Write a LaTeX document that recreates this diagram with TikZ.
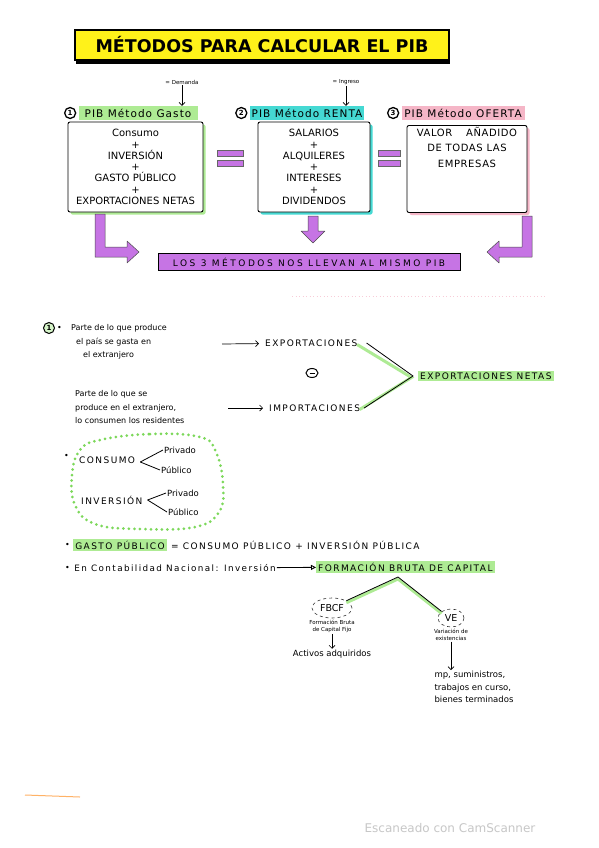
\documentclass[tikz,border=0pt]{standalone}
\usepackage{fontspec}
\setmainfont{DejaVu Sans}
\usetikzlibrary{arrows.meta,calc,positioning,shadows,shapes.geometric}

\definecolor{markyellow}{HTML}{FFF21A}
\definecolor{markgreen}{HTML}{AEEB94}
\definecolor{markcyan}{HTML}{45D9D3}
\definecolor{markpink}{HTML}{F5B6C7}
\definecolor{markviolet}{HTML}{C674E4}
\definecolor{dotgreen}{HTML}{7CD85A}
\newcommand{\spaced}{\addfontfeature{LetterSpace=16}}
\newcommand{\widespaced}{\addfontfeature{LetterSpace=28}}

\begin{document}
\begin{tikzpicture}[
  x=1pt, y=-1pt,
  node distance=4pt and 6pt,
  every node/.style={font=\fontsize{8}{10}\selectfont, inner sep=1pt},
  heading/.style={
    draw=black,
    line width=1.5pt,
    fill=markyellow,
    minimum width=374pt,
    minimum height=30pt,
    font=\fontsize{17.5}{20}\selectfont\bfseries,
    drop shadow={shadow xshift=1pt, shadow yshift=-4pt, fill=black, opacity=1}
  },
  hl/.style={fill=#1, inner sep=2pt},
  header/.style={hl=#1, font=\fontsize{10.5}{11}\selectfont\addfontfeature{LetterSpace=10},
    minimum height=14pt},
  num/.style={circle, draw=black, line width=1.3pt, inner sep=0pt, minimum size=11pt,
    font=\fontsize{7}{7}\selectfont\bfseries},
  method/.style={
    draw=black,
    line width=0.9pt,
    rounded corners=2pt,
    fill=white,
    align=center,
    font=\fontsize{10}{11.3}\selectfont,
    drop shadow={shadow xshift=2.5pt, shadow yshift=-2.5pt, fill=#1, opacity=1}
  },
  eqbar/.style={fill=markviolet, draw=black!60, line width=0.4pt},
  fatarrow/.style={fill=markviolet, draw=black!70, line width=0.5pt, line join=round},
  banner/.style={fill=markviolet, draw=black, line width=0.8pt, minimum width=302pt,
    minimum height=17pt, font=\fontsize{9}{10}\selectfont\widespaced},
  arrow/.style={-{Straight Barb[length=3pt]}, line width=0.7pt},
  caps/.style={font=\fontsize{9}{10}\selectfont\spaced},
  note/.style={align=left, font=\fontsize{8}{13.8}\selectfont},
  branch/.style={line width=0.8pt},
  glow/.style={draw=markgreen, line width=3pt},
  dotblob/.style={draw=dotgreen, line width=3pt, dash pattern=on 0pt off 5.5pt, line cap=round},
  tiny/.style={font=\fontsize{5.5}{6.5}\selectfont, align=center},
  oval/.style={ellipse, draw=black!80, dashed, line width=0.6pt, inner sep=0pt,
    font=\fontsize{9.5}{10}\selectfont}
]
\useasboundingbox (0,0) rectangle (599,848);
\fill[white] (0,0) rectangle (599,848);

% title
\node[heading] (title) at (262,45) {MÉTODOS PARA CALCULAR EL PIB};

% the three methods
\node[header=markgreen, minimum width=119pt] (hgasto) at (138,113) {PIB Método Gasto};
\node[header=markcyan, minimum width=113pt] (hrenta) at (307,113) {PIB Método RENTA};
\node[header=markpink, minimum width=123pt] (hoferta) at (463,113) {PIB Método OFERTA};
\node[num, left=2pt of hgasto] (n1) {1};
\node[num, left=2pt of hrenta] (n2) {2};
\node[num, left=2pt of hoferta] (n3) {3};

\node[tiny] (demanda) at (182,82) {= Demanda};
\node[tiny] (ingreso) at (346,82) {= Ingreso};
\draw[arrow] (demanda) -- (demanda |- hgasto.north);
\draw[arrow] (ingreso) -- (ingreso |- hrenta.north);

\node[method=markgreen, minimum width=135pt, minimum height=90pt] (gasto) at (135.5,167)
  {Consumo\\+\\INVERSIÓN\\+\\GASTO PÚBLICO\\+\\EXPORTACIONES NETAS};
\node[method=markcyan, minimum width=112pt, minimum height=90pt] (renta) at (314,167)
  {SALARIOS\\+\\ALQUILERES\\+\\INTERESES\\+\\DIVIDENDOS};
\node[method=markpink, minimum width=120pt, minimum height=87pt] (oferta) at (467,169) {};
\node[below=1pt of oferta.north, align=center,
  font=\fontsize{10}{15.5}\selectfont\addfontfeature{LetterSpace=6}] (valor)
  {VALOR \quad AÑADIDO\\DE TODAS LAS\\EMPRESAS};

% equal signs
\foreach \xa/\xb in {217/243, 378/400} {
  \draw[eqbar] (\xa,150) rectangle (\xb,156);
  \draw[eqbar] (\xa,160) rectangle (\xb,166);
}

% purple arrows
\draw[fatarrow] (95,214) -- (105,214) -- (105,247) -- (127,247) -- (127,241) -- (139,252)
  -- (127,263) -- (127,257) -- (95,257) -- cycle;
\draw[fatarrow] (308,216) -- (318,216) -- (318,231) -- (325,231) -- (313,243) -- (301,231)
  -- (308,231) -- cycle;
\draw[fatarrow] (532,216) -- (522,216) -- (522,247) -- (499,247) -- (499,241) -- (487,252)
  -- (499,263) -- (499,257) -- (532,257) -- cycle;
\node[banner] (same) at (309,262) {LOS 3 MÉTODOS NOS LLEVAN AL MISMO PIB};

\draw[markpink!70, line width=1pt, dash pattern=on 1pt off 2.5pt] (292,296) -- (545,296);

% exports and imports
\node[num, fill=markgreen!50, line width=1pt] (sec1) at (49,328) {1};
\node[right=1pt of sec1] (dot1) {•};
\node[note, anchor=north west] (expdef) at (70,323)
  {Parte de lo que produce\\\hspace*{5pt}el país se gasta en\\\hspace*{12pt}el extranjero};
\node[note, anchor=north west] (impdef) at (74,389)
  {Parte de lo que se\\produce en el extranjero,\\lo consumen los residentes};
\node[caps, anchor=west] (exp) at (264,343) {EXPORTACIONES};
\node[caps, anchor=west] (imp) at (268,408) {IMPORTACIONES};
\coordinate (expin) at (222,344);
\coordinate (impin) at (228,408);
\draw[arrow, shorten >=5pt] (expin) -- (exp);
\draw[arrow, shorten >=5pt] (impin) -- (imp);
\node[ellipse, draw, line width=1pt, minimum width=12pt, minimum height=9pt, inner sep=0pt]
  (minus) at (312,373) {\rule{5pt}{1pt}};

\coordinate (netfork) at (413,376);
\node[hl=markgreen, caps, anchor=west] (netas) at (418,376) {EXPORTACIONES NETAS};
\draw[glow] ([shift={(-1.5pt,-1.5pt)}]exp.east) -- ([shift={(-1.5pt,-1.5pt)}]netfork)
  -- ([shift={(-1.5pt,-1.5pt)}]imp.east);
\draw[branch] ([xshift=8pt]exp.east) -- (netfork) -- ([xshift=3pt]imp.east);

% consumption and investment
\node[anchor=west] (dot2) at (63,456) {•};
\node[caps, anchor=west] (consumo) at (78,460) {CONSUMO};
\coordinate (cfork) at ($(consumo.east)+(4,2)$);
\node[anchor=west, font=\fontsize{8.5}{10}\selectfont] (cpriv) at (163,450) {Privado};
\node[anchor=west, font=\fontsize{8.5}{10}\selectfont] (cpub) at (160,470) {Público};
\node[caps, anchor=west] (inversion) at (80,500) {INVERSIÓN};
\coordinate (ifork) at ($(inversion.east)+(4,0)$);
\node[anchor=west, font=\fontsize{8.5}{10}\selectfont] (ipriv) at (166,493) {Privado};
\node[anchor=west, font=\fontsize{8.5}{10}\selectfont] (ipub) at (167,512) {Público};
\foreach \k in {cpriv,cpub}
  \draw[branch] (cfork) -- (\k.west);
\foreach \k in {ipriv,ipub}
  \draw[branch] (ifork) -- (\k.west);
\draw[dotblob] plot[smooth cycle, tension=0.7] coordinates {(100,440) (150,434) (200,437)
  (216,452) (223,485) (219,512) (195,527) (140,529) (95,524) (75,505) (72,475) (80,450)};

% public spending and capital formation
\node[anchor=west] (dot3) at (64,545) {•};
\node[hl=markgreen, caps, right=2pt of dot3] (gp) {GASTO PÚBLICO};
\node[caps, right=3pt of gp] (gpdef) {= CONSUMO PÚBLICO + INVERSIÓN PÚBLICA};
\node[anchor=west] (dot4) at (64,568) {•};
\node[right=2pt of dot4, font=\fontsize{8.8}{10}\selectfont\spaced] (contab)
  {En Contabilidad Nacional: Inversión};
\node[hl=markgreen, caps, anchor=west] (fbc) at (316,567) {FORMACIÓN BRUTA DE CAPITAL};
\draw[-{Triangle[open, length=5pt, width=5pt]}, line width=0.9pt] (contab) -- (fbc);

\coordinate (apex) at (398,577);
\node[oval, minimum width=40pt, minimum height=20pt] (fbcf) at (332,608) {FBCF};
\node[oval, minimum width=26pt, minimum height=18pt] (ve) at (451,618) {VE};
\draw[glow] ([yshift=-2pt]apex) -- ([yshift=-2pt]fbcf.north east);
\draw[glow] ([yshift=-2pt]apex) -- ([yshift=-2pt]ve.north west);
\draw[branch] (fbcf.north east) -- (apex) -- (ve.north west);

\node[tiny, below=1pt of fbcf] (fbcfdef) {Formación Bruta\\de Capital Fijo};
\node[below=15pt of fbcfdef, font=\fontsize{8.5}{10}\selectfont] (activos) {Activos adquiridos};
\draw[arrow] (fbcfdef) -- (activos);
\node[tiny, below=1pt of ve] (vedef) {Variación de\\existencias};
\node[align=left, font=\fontsize{8.5}{12.5}\selectfont] (mp) at (474,687)
  {mp, suministros,\\trabajos en curso,\\bienes terminados};
\draw[arrow] (vedef) -- (vedef |- mp.north);

\draw[orange!60, line width=1pt] (25,795) -- (80,797);
\node[text=black!22, font=\fontsize{12}{13}\selectfont] (scan) at (450,828) {Escaneado con CamScanner};
\end{tikzpicture}
\end{document}
